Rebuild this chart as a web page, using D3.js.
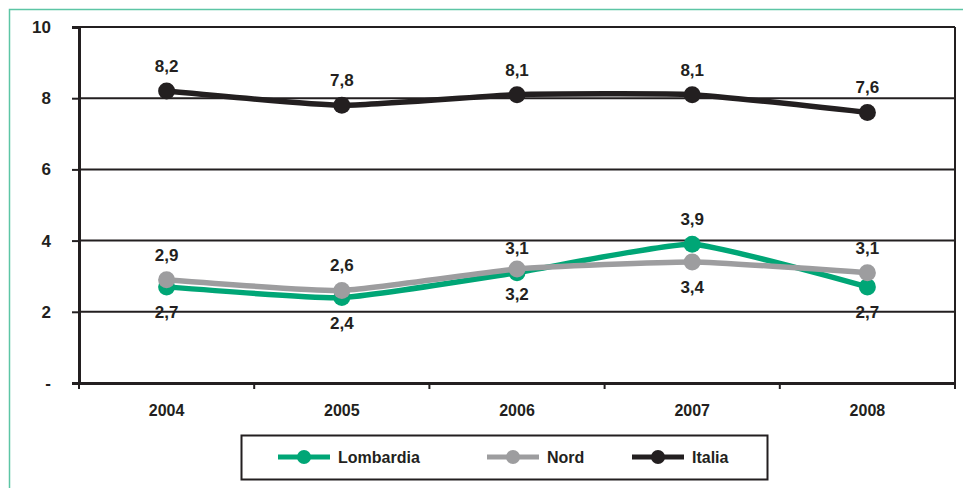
<!DOCTYPE html>
<html>
<head>
<meta charset="utf-8">
<script src="https://cdn.jsdelivr.net/npm/d3@7"></script>
<style>
  body { margin: 0; background: #fff; }
  svg { display: block; }
  text { font-family: "Liberation Sans", Arial, sans-serif; font-weight: bold; fill: #231f20; }
</style>
</head>
<body>
<script>
var years = ["2004", "2005", "2006", "2007", "2008"];
var lombardia = [2.7, 2.4, 3.1, 3.9, 2.7];
var nord = [2.9, 2.6, 3.2, 3.4, 3.1];
var italia = [8.2, 7.8, 8.1, 8.1, 7.6];
var yTicks = [0, 2, 4, 6, 8, 10];
// which side each label sits on (-1 above, 1 below)
var lombardiaSide = [1, 1, -1, -1, 1];
var nordSide = [-1, -1, 1, 1, -1];
var italiaSide = [-1, -1, -1, -1, -1];

(function(){
  var width = 963, height = 488;
  var left = 79, right = 955, top = 27, bottom = 383;

  var svg = d3.select("body").append("svg")
      .attr("width", width)
      .attr("height", height);

  // outer teal frame
  svg.append("path")
      .attr("d", "M9.5," + height + " V9.5 H" + width)
      .attr("fill", "none")
      .attr("stroke", "#5cc5a5")
      .attr("stroke-width", 1.5);

  var x = d3.scaleBand().domain(years).range([left, right]);
  var y = d3.scaleLinear().domain([0, 10]).range([bottom, top]);

  // gridlines + plot border
  svg.append("g").selectAll("line")
      .data(yTicks.filter(function(d){ return d > 0; }))
      .join("line")
      .attr("x1", left).attr("x2", right)
      .attr("y1", function(d){ return y(d); })
      .attr("y2", function(d){ return y(d); })
      .attr("stroke", "#231f20").attr("stroke-width", 2);
  svg.append("line")
      .attr("x1", right).attr("x2", right)
      .attr("y1", top).attr("y2", bottom)
      .attr("stroke", "#231f20").attr("stroke-width", 2);

  // y axis
  var yAxis = svg.append("g")
      .attr("transform", "translate(" + left + ",0)")
      .call(d3.axisLeft(y).tickValues(yTicks).tickSize(7)
        .tickFormat(function(d){ return d === 0 ? "-" : d; }));
  yAxis.select(".domain").attr("stroke", "#231f20").attr("stroke-width", 3);
  yAxis.selectAll(".tick line").attr("stroke", "#231f20").attr("stroke-width", 2);
  yAxis.selectAll(".tick text")
      .attr("x", -28)
      .attr("font-size", 17)
      .attr("font-weight", "bold")
      .attr("font-family", "Liberation Sans, Arial, sans-serif")
      .attr("fill", "#231f20");

  // x axis
  var xAxis = svg.append("g")
      .attr("transform", "translate(0," + bottom + ")")
      .call(d3.axisBottom(x).tickSize(0).tickPadding(22));
  xAxis.select(".domain").attr("stroke", "#231f20").attr("stroke-width", 3);
  xAxis.selectAll(".tick text")
      .attr("font-size", 16)
      .attr("font-weight", "bold")
      .attr("font-family", "Liberation Sans, Arial, sans-serif")
      .attr("fill", "#231f20");
  svg.append("g").selectAll("line")
      .data(years)
      .join("line")
      .attr("x1", function(d){ return x(d); })
      .attr("x2", function(d){ return x(d); })
      .attr("y1", bottom).attr("y2", bottom + 6)
      .attr("stroke", "#231f20").attr("stroke-width", 2);
  svg.append("line")
      .attr("x1", right).attr("x2", right)
      .attr("y1", bottom).attr("y2", bottom + 6)
      .attr("stroke", "#231f20").attr("stroke-width", 2);

  var series = [
    { name: "Lombardia", values: lombardia, side: lombardiaSide, color: "#00a676" },
    { name: "Nord", values: nord, side: nordSide, color: "#9d9d9f" },
    { name: "Italia", values: italia, side: italiaSide, color: "#231f20" }
  ];

  var line = d3.line()
      .x(function(d, i){ return x(years[i]) + x.bandwidth() / 2; })
      .y(function(d){ return y(d); })
      .curve(d3.curveCardinal.tension(0.55));

  var fmt = function(v){ return d3.format(".1f")(v).replace(".", ","); };

  series.forEach(function(s){
    var g = svg.append("g");
    g.append("path")
        .attr("d", line(s.values))
        .attr("fill", "none")
        .attr("stroke", s.color)
        .attr("stroke-width", 5.5);
    g.selectAll("circle")
        .data(s.values)
        .join("circle")
        .attr("cx", function(d, i){ return x(years[i]) + x.bandwidth() / 2; })
        .attr("cy", function(d){ return y(d); })
        .attr("r", 8.5)
        .attr("fill", s.color);
  });

  series.forEach(function(s){
    svg.append("g").selectAll("text")
        .data(s.values)
        .join("text")
        .attr("x", function(d, i){ return x(years[i]) + x.bandwidth() / 2; })
        .attr("y", function(d, i){ return y(d) + (s.side[i] < 0 ? -19 : 31); })
        .attr("text-anchor", "middle")
        .style("font-size", "17px")
        .text(fmt);
  });

  // legend
  var lg = svg.append("g");
  lg.append("rect")
      .attr("x", 241.5).attr("y", 435.5)
      .attr("width", 526).attr("height", 44)
      .attr("fill", "#fff")
      .attr("stroke", "#231f20").attr("stroke-width", 2);
  var lx = [278, 487, 632];
  series.forEach(function(s, i){
    var g = lg.append("g").attr("transform", "translate(" + lx[i] + ",457)");
    g.append("line").attr("x1", 0).attr("x2", 52).attr("y1", 0).attr("y2", 0)
        .attr("stroke", s.color).attr("stroke-width", 5);
    g.append("circle").attr("cx", 26).attr("cy", 0).attr("r", 7).attr("fill", s.color);
    g.append("text").attr("x", 60).attr("y", 6)
        .style("font-size", "16px")
        .text(s.name);
  });
})();
</script>
</body>
</html>
